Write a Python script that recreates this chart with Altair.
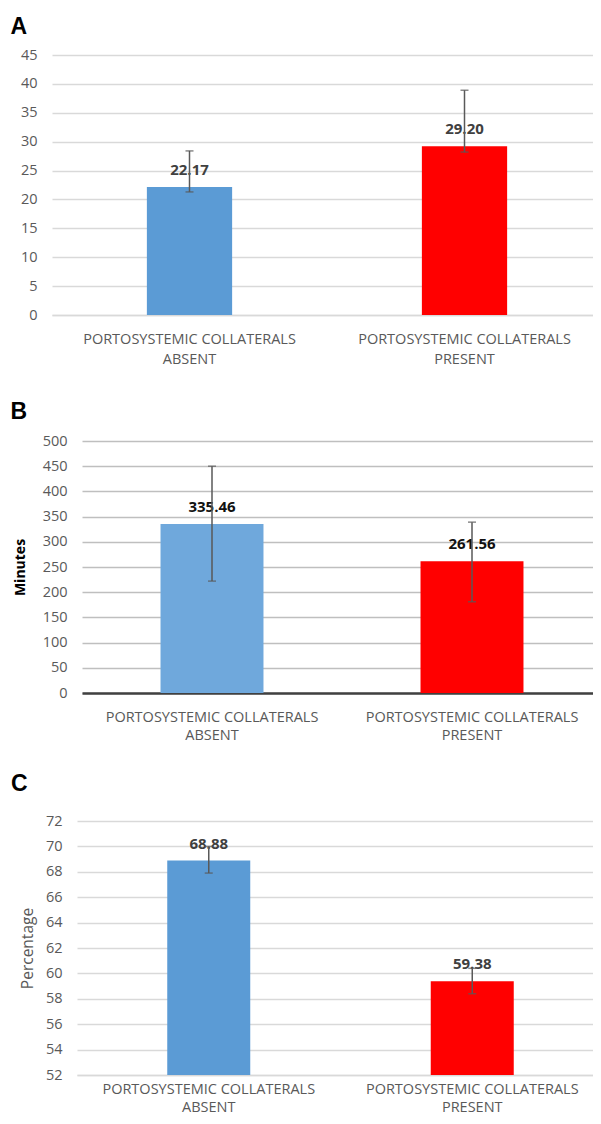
import altair as alt
import pandas as pd

FONT = "Open Sans"
TITLE_FONT = "Liberation Sans"

categories = ["PORTOSYSTEMIC COLLATERALS\nABSENT", "PORTOSYSTEMIC COLLATERALS\nPRESENT"]

# Panel A
a_values = [22.17, 29.20]
a_err_low = [21.3, 28.2]
a_err_high = [28.4, 38.9]
a_colors = ["#5B9BD5", "#FF0000"]
a_ticks = [0, 5, 10, 15, 20, 25, 30, 35, 40, 45]

# Panel B
b_values = [335.46, 261.56]
b_err_low = [222, 181]
b_err_high = [450, 339]
b_colors = ["#6FA8DC", "#FF0000"]
b_ticks = [0, 50, 100, 150, 200, 250, 300, 350, 400, 450, 500]

# Panel C
c_values = [68.88, 59.38]
c_err_low = [67.9, 58.4]
c_err_high = [70.0, 60.4]
c_colors = ["#5B9BD5", "#FF0000"]
c_ticks = [52, 54, 56, 58, 60, 62, 64, 66, 68, 70, 72]

W, H = 585, 1108


def panel(letter, values, lo, hi, colors, ticks, x_range, y_range, letter_pos,
          grid_color, domain_color, domain_width, label_color, bar_band,
          line_height=19, label_pad=17, ytitle=None, ytitle_pos=(0, 0),
          ytitle_weight="normal", ytitle_size=14, ytitle_color="#000000"):
    df = pd.DataFrame({
        "cat": categories,
        "value": values,
        "lo": lo,
        "hi": hi,
        "color": colors,
        "label": [f"{v:.2f}" for v in values],
    })
    plot_left = x_range[0]
    plot_bottom = y_range[0]
    xscale = alt.Scale(domain=categories, range=x_range, paddingInner=0, paddingOuter=0)
    yscale = alt.Scale(domain=[ticks[0], ticks[-1]], range=y_range, nice=False, zero=False)
    xaxis = alt.Axis(
        orient="bottom", offset=plot_bottom - H,
        labelAngle=0, labelExpr="split(datum.label, '\\n')",
        labelFont=FONT, labelFontSize=14.5, labelColor="#595959",
        labelLineHeight=line_height, labelPadding=label_pad, labelLimit=400,
        ticks=False, tickSize=0, grid=False,
        domainColor=domain_color, domainWidth=domain_width,
        title=letter, titleX=letter_pos[0], titleY=letter_pos[1] - plot_bottom,
        titleAngle=0, titleAlign="left", titleBaseline="alphabetic",
        titleFont=TITLE_FONT, titleFontSize=23, titleFontWeight="bold",
        titleColor="#000000",
    )
    axis_kw = dict(orient="left", offset=-plot_left, values=ticks, labelFont=FONT,
                   labelFontSize=14.5, labelColor="#595959", labelPadding=15,
                   labelOverlap=False, ticks=False, tickSize=0, domain=False,
                   grid=True, gridColor=grid_color, gridWidth=1.5)
    if ytitle:
        axis_kw.update(title=ytitle, titleX=ytitle_pos[0] - plot_left, titleY=ytitle_pos[1],
                       titleAngle=270, titleBaseline="middle", titleAlign="center",
                       titleFont=FONT, titleFontSize=ytitle_size,
                       titleFontWeight=ytitle_weight, titleColor=ytitle_color)
    else:
        axis_kw.update(title=None)
    yaxis = alt.Axis(**axis_kw)
    x = alt.X("cat:N", sort=categories, scale=xscale, axis=xaxis)

    bars = alt.Chart(df).mark_bar(width=alt.RelativeBandSize(bar_band)).encode(
        x=x,
        y=alt.Y("value:Q", scale=yscale, axis=yaxis),
        y2=alt.datum(ticks[0]),
        color=alt.Color("color:N", scale=None),
    )
    text = alt.Chart(df).mark_text(dy=-17, baseline="middle", font=FONT, fontSize=15,
                                   fontWeight="bold", color=label_color).encode(
        x=x, y=alt.Y("value:Q", scale=yscale, axis=yaxis), text="label:N")
    rule = alt.Chart(df).mark_rule(color="#595959", strokeWidth=1.5).encode(
        x=x, y=alt.Y("lo:Q", scale=yscale, axis=yaxis), y2="hi:Q")
    cap_lo = alt.Chart(df).mark_tick(color="#595959", thickness=1.5, size=8).encode(
        x=x, y=alt.Y("lo:Q", scale=yscale, axis=yaxis))
    cap_hi = alt.Chart(df).mark_tick(color="#595959", thickness=1.5, size=8).encode(
        x=x, y=alt.Y("hi:Q", scale=yscale, axis=yaxis))
    return alt.layer(bars, text, rule, cap_lo, cap_hi)


pa = panel("A", a_values, a_err_low, a_err_high, a_colors, a_ticks,
           x_range=[44, 594], y_range=[307, 47], letter_pos=(2, 25.3),
           grid_color="#d9d9d9", domain_color="#d9d9d9", domain_width=1.5,
           label_color="#404040", bar_band=0.31, line_height=20)
pb = panel("B", b_values, b_err_low, b_err_high, b_colors, b_ticks,
           x_range=[74, 594], y_range=[685, 433], letter_pos=(2, 410.3),
           grid_color="#bfbfbf", domain_color="#404040", domain_width=2.5,
           label_color="#111111", bar_band=0.396, line_height=18.5,
           ytitle="Minutes", ytitle_pos=(12, 559), ytitle_weight="bold",
           ytitle_size=14, ytitle_color="#000000")
pc = panel("C", c_values, c_err_low, c_err_high, c_colors, c_ticks,
           x_range=[69, 596], y_range=[1067, 813], letter_pos=(2.5, 782.5),
           grid_color="#d9d9d9", domain_color="#d9d9d9", domain_width=1.5,
           label_color="#404040", bar_band=0.315, line_height=18, label_pad=7,
           ytitle="Percentage", ytitle_pos=(19, 940), ytitle_weight="normal",
           ytitle_size=15.5, ytitle_color="#595959")

chart = alt.layer(pa, pb, pc).resolve_scale(
    x="independent", y="independent"
).resolve_axis(
    x="independent", y="independent"
).properties(
    width=W, height=H,
    autosize=alt.AutoSizeParams(type="none"),
    padding=0,
    background="white",
).configure_view(stroke=None)

chart.save("out.html", embed_options={"renderer": "svg", "actions": False})
